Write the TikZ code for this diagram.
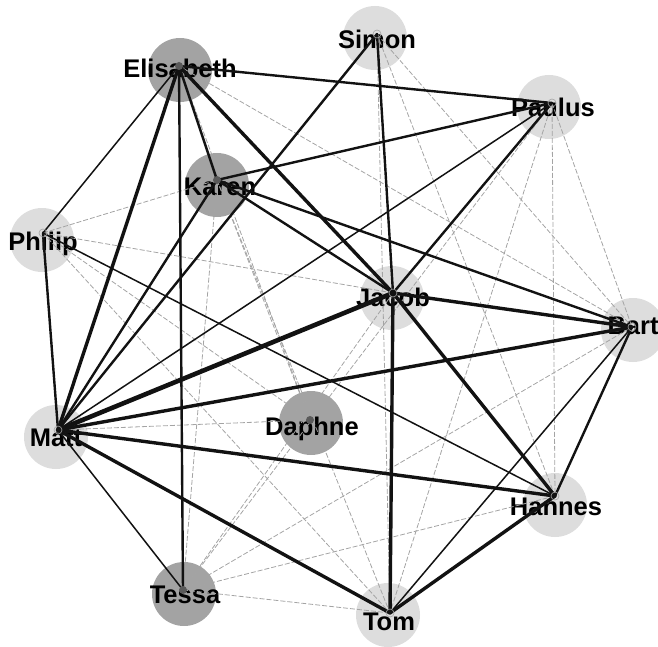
\documentclass[tikz,border=0pt]{standalone}
\usepackage{fontspec}
\setmainfont{Liberation Sans}
\definecolor{lightc}{HTML}{DDDDDD}
\definecolor{darkc}{HTML}{A3A3A3}
\definecolor{dotc}{HTML}{5A5A5A}
\definecolor{dashc}{HTML}{A4A4A4}
\definecolor{edgec}{HTML}{121212}
\tikzset{
  lbl/.style={font=\fontsize{25.5}{30}\selectfont\bfseries, anchor=base, inner sep=0pt, text=black},
  bubble/.style={circle, minimum size=64pt, inner sep=0pt, draw=none},
  lightbub/.style={bubble, fill=lightc},
  darkbub/.style={bubble, fill=darkc},
  darkdot/.style={circle, fill=dotc, minimum size=8pt, inner sep=0pt},
  lightdot/.style={circle, draw=dashc, line width=0.6pt, minimum size=8pt, inner sep=0pt},
  wA/.style={draw=edgec, line width=4.6pt, line cap=round},
  wB/.style={draw=edgec, line width=3.4pt, line cap=round},
  wC/.style={draw=edgec, line width=2.4pt, line cap=round},
  wD/.style={draw=edgec, line width=1.5pt, line cap=round},
  dsh/.style={draw=dashc, line width=0.8pt, dash pattern=on 5pt off 2pt},
}
\begin{document}
\begin{tikzpicture}[x=1pt,y=-1pt]
\useasboundingbox (0,0) rectangle (658,647);
% edge points
\coordinate (E) at (179,66);
\coordinate (S) at (377,34);
\coordinate (P) at (552,103);
\coordinate (K) at (217,180);
\coordinate (Ph) at (43,233);
\coordinate (J) at (393,293);
\coordinate (B) at (632,327);
\coordinate (M) at (58,430);
\coordinate (D) at (310,420);
\coordinate (Te) at (183,590);
\coordinate (H) at (555,496);
\coordinate (To) at (390,613);
% bubbles
\node[darkbub]  (Ec)  at (180,70) {};
\node[lightbub] (Sc)  at (375,38) {};
\node[lightbub] (Pc)  at (549,107) {};
\node[darkbub]  (Kc)  at (217,185) {};
\node[lightbub] (Phc) at (42,240) {};
\node[lightbub] (Jc)  at (392,298) {};
\node[lightbub] (Bc)  at (633,330) {};
\node[lightbub] (Mc)  at (56,437) {};
\node[darkbub]  (Dc)  at (311,423) {};
\node[darkbub]  (Tec) at (184,594) {};
\node[lightbub] (Hc)  at (555,505) {};
\node[lightbub] (Toc) at (388,615) {};
% labels
\node[lbl] (El)  at (180,78)  {Elisabeth};
\node[lbl] (Sl)  at (377,49)  {Simon};
\node[lbl] (Pl)  at (553,117) {Paulus};
\node[lbl] (Kl)  at (220,195) {Karen};
\node[lbl] (Phl) at (43,250)  {Philip};
\node[lbl] (Jl)  at (393,306) {Jacob};
\node[lbl] (Bl)  at (633,334) {Bart};
\node[lbl] (Ml)  at (56,446)  {Matt};
\node[lbl] (Dl)  at (312,435) {Daphne};
\node[lbl] (Tel) at (185,603) {Tessa};
\node[lbl] (Hl)  at (556,515) {Hannes};
\node[lbl] (Tol) at (389,630) {Tom};
% dashed grey edges
\foreach \a/\b in {E/B, E/D, K/Te, K/D, K/To, Ph/K, Ph/J, Ph/D, Ph/To, M/D,
  S/To, S/H, S/B, P/B, P/H, P/To, P/Te, J/Te, Te/B, Te/H, Te/To}
  \draw[dsh] (\a) -- (\b);
% thin black
\foreach \a/\b in {E/Ph, M/P, M/Te, Ph/H, To/B}
  \draw[wD] (\a) -- (\b);
% medium
\foreach \a/\b in {M/K, M/S, M/Ph, E/K, E/Te, K/J, K/B, K/P, J/S, J/P, E/P, H/B}
  \draw[wC] (\a) -- (\b);
% thick
\foreach \a/\b in {E/M, E/J, M/B, M/H, M/To, J/To, J/H, J/B, To/H}
  \draw[wB] (\a) -- (\b);
% very thick
\draw[wA] (M) -- (J);
% dots
\node[darkdot] (Ed) at (E) {};
\node[darkdot] (Kd) at (K) {};
\node[darkdot] (Dd) at (D) {};
\node[darkdot] (Ted) at (Te) {};
\node[lightdot] (Sd) at (S) {};
\node[lightdot] (Pd) at (P) {};
\node[lightdot] (Phd) at (Ph) {};
\node[lightdot] (Jd) at (J) {};
\node[lightdot] (Bd) at (B) {};
\node[lightdot] (Md) at (M) {};
\node[lightdot] (Hd) at (H) {};
\node[lightdot] (Tod) at (To) {};
\end{tikzpicture}
\end{document}
